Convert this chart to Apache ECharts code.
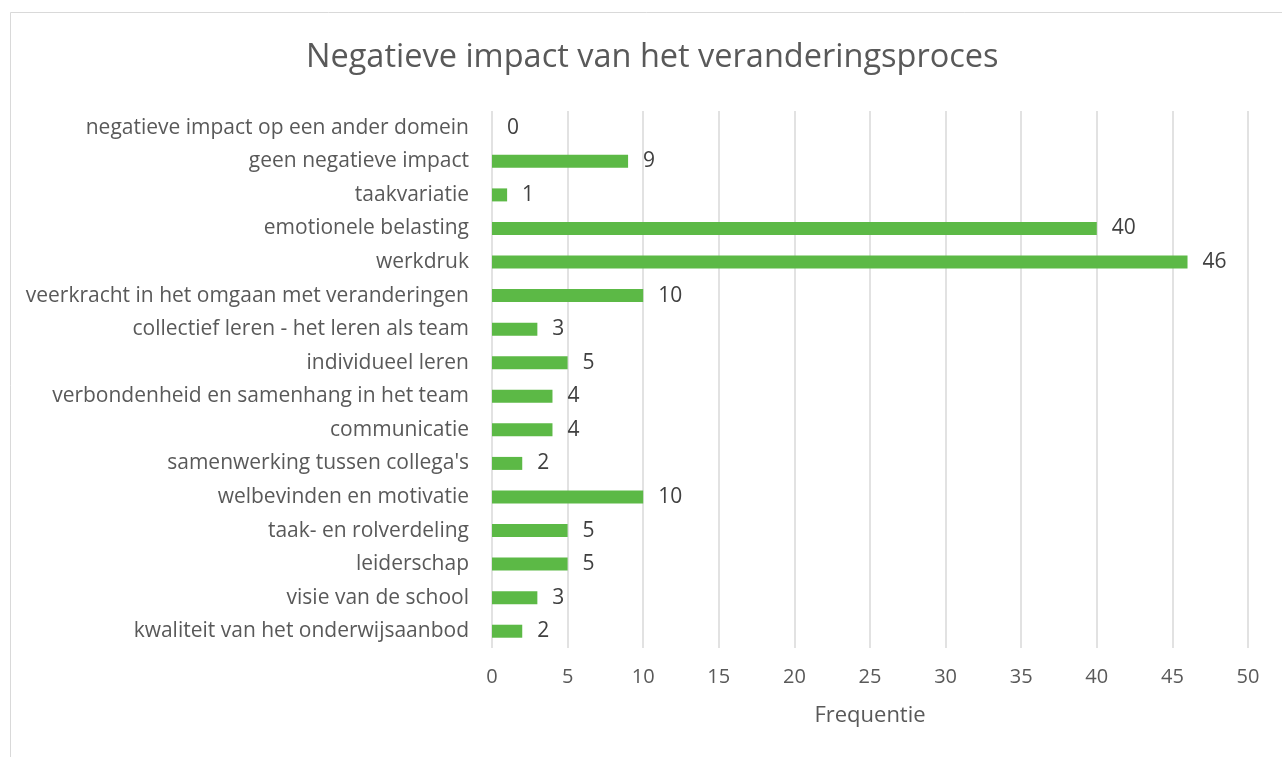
<!DOCTYPE html>
<html lang="nl">
<head>
    <meta charset="UTF-8">
    <title>Negatieve impact</title>
    <script src="https://cdn.jsdelivr.net/npm/echarts@6.0.0/dist/echarts.min.js"></script>
    <style>
        body { margin: 0; background: #fff; }
        #chart { width: 1282px; height: 757px; }
    </style>
</head>
<body>
    <div id="chart"></div>
    <script>
        const categories = [
            'negatieve impact op een ander domein',
            'geen negatieve impact',
            'taakvariatie',
            'emotionele belasting',
            'werkdruk',
            'veerkracht in het omgaan met veranderingen',
            'collectief leren - het leren als team',
            'individueel leren',
            'verbondenheid en samenhang in het team',
            'communicatie',
            "samenwerking tussen collega's",
            'welbevinden en motivatie',
            'taak- en rolverdeling',
            'leiderschap',
            'visie van de school',
            'kwaliteit van het onderwijsaanbod'
        ]
        const values = [0, 9, 1, 40, 46, 10, 3, 5, 4, 4, 2, 10, 5, 5, 3, 2]

        const font = 'Open Sans, Noto Sans, sans-serif'
        const chart = echarts.init(document.getElementById('chart'))

        const option = {
            backgroundColor: '#fff',
            animation: false,
            textStyle: { fontFamily: font },
            title: {
                text: 'Negatieve impact van het veranderingsproces',
                left: 301,
                top: 36,
                textStyle: { color: '#595959', fontSize: 32.5, fontWeight: 'normal', fontFamily: font }
            },
            graphic: [{
                type: 'rect',
                shape: { x: 10.5, y: 12.5, width: 1290, height: 760 },
                style: { fill: 'none', stroke: '#d9d9d9', lineWidth: 1 },
                silent: true
            }],
            grid: { left: 492, right: 34, top: 111, bottom: 109 },
            xAxis: {
                type: 'value',
                min: 0,
                max: 50,
                interval: 5,
                name: 'Frequentie',
                nameLocation: 'middle',
                nameGap: 57,
                nameTextStyle: { color: '#595959', fontSize: 22, fontFamily: font },
                axisLine: { show: false },
                axisTick: { show: false },
                axisLabel: { color: '#595959', fontSize: 20, margin: 19, fontFamily: font },
                splitLine: { lineStyle: { color: '#d9d9d9', width: 1.5 } }
            },
            yAxis: {
                type: 'category',
                data: categories,
                inverse: true,
                axisLine: { show: false },
                axisTick: { show: false },
                axisLabel: { color: '#595959', fontSize: 21, margin: 23, fontFamily: font }
            },
            series: [{
                type: 'bar',
                data: values,
                barWidth: 13,
                itemStyle: { color: '#5cb946' },
                label: {
                    show: true,
                    position: 'right',
                    distance: 15,
                    color: '#404040',
                    fontSize: 21,
                    fontFamily: font
                }
            }]
        }

        chart.setOption(option)
    </script>
</body>
</html>
